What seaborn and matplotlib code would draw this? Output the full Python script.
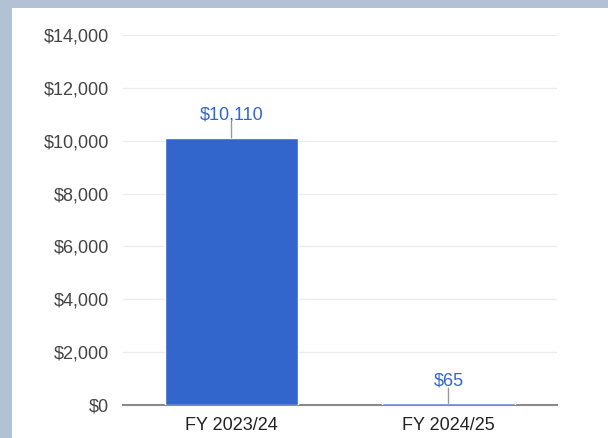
import matplotlib
matplotlib.use("Agg")
import matplotlib.pyplot as plt
from matplotlib.patches import Rectangle
from matplotlib.ticker import FuncFormatter
import seaborn as sns

# data
categories = ["FY 2023/24", "FY 2024/25"]
amounts = [10110, 65]
amount_labels = ["$10,110", "$65"]
y_ticks = [0, 2000, 4000, 6000, 8000, 10000, 12000, 14000]

BAR_COLOR = "#3366cc"
FRAME_COLOR = "#b3c1d4"

sns.set_theme(style="white")
plt.rcParams["font.family"] = ["Liberation Sans", "DejaVu Sans"]

fig = plt.figure(figsize=(6.08, 4.38), dpi=100, facecolor=FRAME_COLOR)
# white card inside the blue-grey frame
fig.patches.append(Rectangle((12 / 608, 0), 1, 1 - 8 / 438, transform=fig.transFigure,
                             facecolor="white", edgecolor="none", zorder=-10))

ax = fig.add_axes([123 / 608, 33 / 438, 434 / 608, 370 / 438])
ax.set_facecolor("none")

sns.barplot(x=categories, y=amounts, color=BAR_COLOR, saturation=1, width=0.615, ax=ax, zorder=3)

ax.set_ylim(0, 14000)
ax.set_yticks(y_ticks)
ax.yaxis.set_major_formatter(FuncFormatter(lambda v, p: f"${v:,.0f}"))
ax.grid(axis="y", color="#ebebeb", linewidth=1, zorder=0)
ax.tick_params(axis="y", length=0, pad=10, labelsize=13, labelcolor="#444444")
ax.tick_params(axis="x", length=0, pad=9, labelsize=13, labelcolor="#222222")
ax.set_xlabel("")
ax.set_ylabel("")
for side in ["top", "right", "left"]:
    ax.spines[side].set_visible(False)
ax.spines["bottom"].set_color("#8a8a8a")
ax.spines["bottom"].set_linewidth(1.5)
ax.spines["bottom"].set_zorder(2)

# value labels with small stems (stem ~15px, small gap under the text)
for i, (val, lab) in enumerate(zip(amounts, amount_labels)):
    ax.annotate("", xy=(i, val), xytext=(0, 15), textcoords="offset pixels",
                arrowprops=dict(arrowstyle="-", color="#999999", lw=1,
                                shrinkA=0, shrinkB=0), zorder=4)
    ax.annotate(lab, xy=(i, val), xytext=(0, 18), textcoords="offset pixels",
                ha="center", va="baseline", fontsize=13, color=BAR_COLOR, zorder=4)

fig.savefig("out.png", dpi=100, facecolor=FRAME_COLOR)
